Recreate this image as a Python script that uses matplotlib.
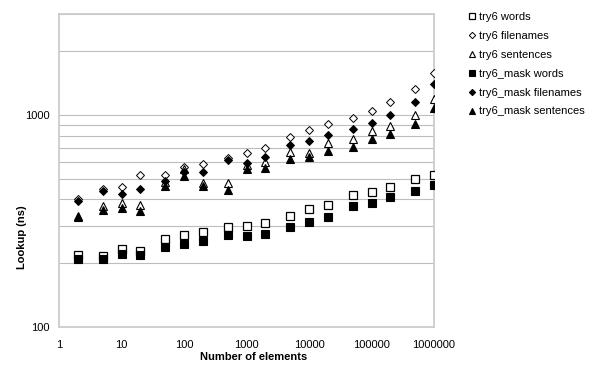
import matplotlib
matplotlib.use("Agg")
import matplotlib.pyplot as plt
from matplotlib.ticker import LogLocator, FuncFormatter, NullFormatter, NullLocator

plt.rcParams['font.family'] = ['Liberation Sans', 'DejaVu Sans']

# ---- data ----
n_elements = [2, 5, 10, 20, 50, 100, 200, 500, 1000, 2000, 5000, 10000,
              20000, 50000, 100000, 200000, 500000, 1000000]
try6_words = [218, 217, 233, 229, 260, 272, 280, 295, 300, 311, 334, 359,
              377, 419, 433, 459, 499, 521]
try6_filenames = [400, 447, 458, 521, 519, 567, 587, 625, 660, 698, 786, 852,
                  910, 965, 1045, 1152, 1327, 1573]
try6_sentences = [333, 373, 383, 376, 481, 556, 478, 480, 584, 600, 672, 659,
                  737, 773, 841, 888, 998, 1186]
try6_mask_words = [209, 209, 220, 218, 239, 247, 254, 271, 269, 276, 297, 314,
                   330, 373, 386, 411, 440, 466]
try6_mask_filenames = [395, 438, 425, 449, 490, 540, 536, 611, 597, 636, 719, 758,
                       805, 856, 920, 1000, 1152, 1395]
try6_mask_sentences = [331, 357, 363, 354, 462, 518, 462, 445, 556, 563, 622, 631,
                       678, 709, 768, 811, 904, 1083]

series_labels = ["try6 words", "try6 filenames", "try6 sentences",
                 "try6_mask words", "try6_mask filenames", "try6_mask sentences"]
x_tick_values = [1, 10, 100, 1000, 10000, 100000, 1000000]
y_tick_values = [100, 1000]

# ---- figure ----
fig = plt.figure(figsize=(6.0, 3.74), dpi=100)
ax = fig.add_axes([59/600, 47/374, 375/600, 313/374])

series = [try6_words, try6_filenames, try6_sentences,
          try6_mask_words, try6_mask_filenames, try6_mask_sentences]
styles = [
    dict(marker='s', ms=6.3, mfc='white', mec='black', mew=0.9),
    dict(marker='D', ms=4.3, mfc='white', mec='black', mew=0.7),
    dict(marker='^', ms=6.2, mfc='white', mec='black', mew=0.8),
    dict(marker='s', ms=6.3, mfc='black', mec='black', mew=0.8),
    dict(marker='D', ms=4.3, mfc='black', mec='black', mew=0.7),
    dict(marker='^', ms=6.2, mfc='black', mec='black', mew=0.8),
]
for ys, lab, st in zip(series, series_labels, styles):
    ax.plot(n_elements, ys, linestyle='none', label=lab, zorder=3, **st)

ax.set_xscale('log')
ax.set_yscale('log')
ax.set_xlim(1, 1000000)
ax.set_ylim(100, 3000)

ax.set_xticks(x_tick_values)
ax.xaxis.set_minor_locator(NullLocator())
ax.xaxis.set_major_formatter(FuncFormatter(lambda v, p: f"{int(round(v))}"))

ax.set_yticks(y_tick_values)
ax.yaxis.set_minor_locator(LogLocator(base=10, subs=range(2, 10), numticks=20))
ax.yaxis.set_major_formatter(FuncFormatter(lambda v, p: f"{int(round(v))}"))
ax.yaxis.set_minor_formatter(NullFormatter())

ax.grid(True, axis='y', which='both', color='#bdbdbd', linewidth=0.8, zorder=1)
ax.grid(False, axis='x', which='both')
ax.set_axisbelow(True)

ax.tick_params(axis='both', which='both', length=0, labelsize=8, colors='black')
ax.tick_params(axis='x', pad=9)
ax.tick_params(axis='y', pad=7)

for sp in ax.spines.values():
    sp.set_color('#cccccc')
    sp.set_linewidth(1.3)

ax.set_xlabel("Number of elements", fontsize=8, fontweight='bold')
ax.xaxis.set_label_coords((254 - 59) / 375, (327 - 357) / 313)
ax.xaxis.label.set_va('center')
ax.set_ylabel("Lookup (ns)", fontsize=8, fontweight='bold')
ax.yaxis.set_label_coords((22 - 59) / 375, (327 - 237) / 313)
ax.yaxis.label.set_va('center')

leg = fig.legend(loc='upper left', bbox_to_anchor=(468/600, 1 - 12/374),
                 frameon=False, fontsize=8, handlelength=0.7, handletextpad=0.25,
                 labelspacing=0.8, borderpad=0, borderaxespad=0, markerscale=0.75)

fig.savefig("out.png", dpi=100)
